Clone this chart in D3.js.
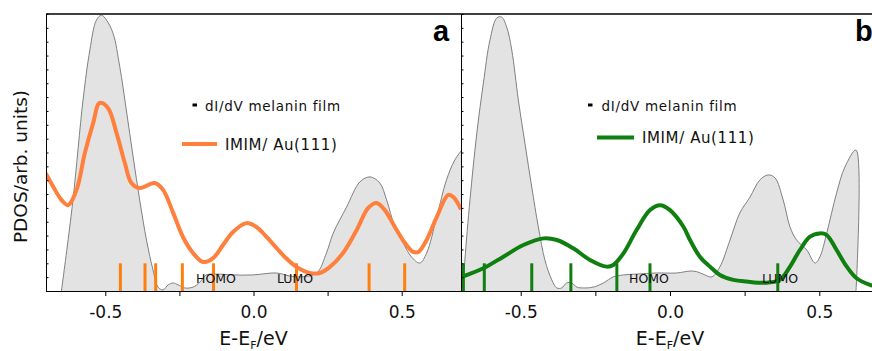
<!DOCTYPE html>
<html>
<head>
<meta charset="utf-8">
<script src="https://cdn.jsdelivr.net/npm/d3@7"></script>
<style>
  body { margin: 0; background: #fff; }
  svg { display: block; font-family: "DejaVu Sans", sans-serif; }
</style>
</head>
<body>
<svg id="chart" width="872" height="351"></svg>
<script>
// dI/dV of melanin film (grey filled), panel a  [E-Ef (eV), arb]
const dIdVA = [[-0.648,0],[-0.643,4.0],[-0.609,32.9],[-0.575,69.0],[-0.552,87.0],[-0.530,97.8],[-0.513,99.6],
  [-0.496,97.8],[-0.474,93.1],[-0.451,80.9],[-0.429,65.3],[-0.406,48.4],[-0.384,32.9],[-0.361,18.4],
  [-0.339,7.6],[-0.322,1.4],[-0.305,0.4],[-0.288,2.2],[-0.271,2.9],[-0.254,2.2],[-0.232,1.1],[-0.204,1.4],
  [-0.181,3.2],[-0.159,5.8],[-0.125,6.1],[-0.070,5.8],[-0.002,5.8],[0.078,6.5],[0.123,5.4],[0.156,5.1],
  [0.213,6.5],[0.246,13.7],[0.269,20.9],[0.314,30.3],[0.359,39.4],[0.393,41.2],[0.426,39.0],[0.449,32.9],
  [0.477,23.1],[0.505,17.3],[0.533,12.3],[0.561,10.1],[0.584,13.7],[0.618,26.7],[0.651,40.1],[0.679,47.3],
  [0.703,50.9]];

// IMIM/Au(111) PDOS, panel a
const imimA = [[-0.701,42.5],[-0.676,37.7],[-0.648,32.9],[-0.626,31.0],[-0.597,36.5],[-0.569,49.8],
  [-0.541,60.6],[-0.519,67.9],[-0.491,66.1],[-0.462,57.0],[-0.434,46.2],[-0.412,39.0],[-0.384,37.2],
  [-0.333,39.0],[-0.305,36.5],[-0.271,28.2],[-0.238,19.5],[-0.204,13.7],[-0.170,10.5],[-0.136,11.9],
  [-0.103,16.6],[-0.069,21.3],[-0.024,24.5],[0.010,23.1],[0.044,19.5],[0.078,15.5],[0.110,11.8],
  [0.145,8.7],[0.190,6.5],[0.224,6.5],[0.258,8.7],[0.302,13.7],[0.348,22.0],[0.387,30.0],[0.415,31.8],
  [0.443,29.2],[0.477,23.1],[0.511,17.3],[0.539,14.1],[0.556,14.1],[0.584,18.4],[0.618,26.7],
  [0.657,34.7],[0.674,33.9],[0.700,29.5]];

// molecular levels, panel a
const levelsA = [-0.705, -0.449, -0.366, -0.330, -0.240, -0.135, 0.145, 0.390, 0.510];

// dI/dV of melanin film, panel b
const dIdVB = [[-0.694,0],[-0.687,11.2],[-0.670,32.9],[-0.647,57.0],[-0.625,75.1],[-0.603,90.6],
  [-0.580,98.6],[-0.564,98.9],[-0.547,95.3],[-0.530,87.0],[-0.508,69.0],[-0.486,53.4],[-0.463,37.5],
  [-0.441,23.1],[-0.419,11.2],[-0.396,4.0],[-0.379,1.1],[-0.363,1.1],[-0.346,2.9],[-0.329,2.9],
  [-0.312,1.4],[-0.290,1.1],[-0.257,1.4],[-0.223,2.9],[-0.190,5.1],[-0.156,5.8],[-0.112,6.1],
  [-0.045,6.5],[0.022,6.5],[0.067,7.2],[0.089,7.0],[0.117,5.8],[0.140,5.1],[0.167,8.7],[0.201,18.4],
  [0.234,28.2],[0.268,33.9],[0.301,40.1],[0.329,41.9],[0.352,40.8],[0.379,32.9],[0.402,23.1],
  [0.424,18.4],[0.458,14.8],[0.486,10.1],[0.502,12.3],[0.525,20.9],[0.558,35.4],[0.586,44.8],
  [0.623,50.9],[0.623,0]];

// IMIM/Au(111) PDOS, panel b
const imimB = [[-0.700,4.7],[-0.692,5.2],[-0.625,8.2],[-0.558,12.4],[-0.491,16.6],[-0.424,19.0],
  [-0.379,18.4],[-0.324,15.4],[-0.268,11.2],[-0.212,8.8],[-0.190,9.4],[-0.156,13.6],[-0.112,22.0],
  [-0.067,29.2],[-0.033,31.0],[0.000,29.2],[0.045,23.2],[0.067,18.4],[0.100,12.4],[0.134,8.8],
  [0.167,5.8],[0.212,4.0],[0.257,3.4],[0.324,3.0],[0.368,4.0],[0.402,8.8],[0.435,14.8],[0.469,19.6],
  [0.502,20.8],[0.525,20.2],[0.558,14.8],[0.592,8.8],[0.625,4.6],[0.670,2.2],[0.700,1.5]];

// molecular levels, panel b
const levelsB = [-0.692, -0.622, -0.463, -0.332, -0.178, -0.067, 0.361];

const xTicks = [-0.5, -0.25, 0, 0.25, 0.5];
const xTickLabels = {"-0.5": "-0.5", "0": "0.0", "0.5": "0.5"};
const levelHeight = 10;

const svg = d3.select('#chart');
const yTop = 14, yBottom = 291;

const y = d3.scaleLinear().domain([0, 100]).range([yBottom, yTop]);

const panels = [
  { id: 'a', x0: 46, x1: 461, dIdV: dIdVA, imim: imimA, levels: levelsA,
    curveColor: '#ff7f3c', barColor: '#ff7f0e', label: 'a', labelX: 433,
    legend: { dashX: 192.5, textX: 205, lineX0: 182, lineX1: 217, lineY: 144, imimX: 225 },
    homoX: 196, lumoX: 277 },
  { id: 'b', x0: 461, x1: 879, dIdV: dIdVB, imim: imimB, levels: levelsB,
    curveColor: '#0f7f0f', barColor: '#0f7f0f', label: 'b', labelX: 855,
    legend: { dashX: 588, textX: 601.5, lineX0: 597, lineX1: 634, lineY: 137.5, imimX: 642 },
    homoX: 629, lumoX: 762 }
];

panels.forEach(p => {
  const x = d3.scaleLinear().domain([-0.7, 0.7]).range([p.x0, p.x1]);
  const g = svg.append('g');

  g.append('clipPath').attr('id', 'clip-' + p.id)
    .append('rect').attr('x', p.x0).attr('y', yTop).attr('width', p.x1 - p.x0).attr('height', yBottom - yTop);
  const plot = g.append('g').attr('clip-path', `url(#clip-${p.id})`);

  // grey dI/dV area
  const area = d3.area().x(d => x(d[0])).y0(y(0)).y1(d => y(d[1])).curve(d3.curveCatmullRom.alpha(0.5));
  const line = d3.line().x(d => x(d[0])).y(d => y(d[1])).curve(d3.curveCatmullRom.alpha(0.5));
  plot.append('path').datum(p.dIdV).attr('d', area).attr('fill', '#e3e3e3');
  plot.append('path').datum(p.dIdV).attr('d', line)
    .attr('fill', 'none').attr('stroke', '#808080').attr('stroke-width', 1);

  // HOMO / LUMO labels
  g.append('text').attr('x', p.homoX).attr('y', 282.5).attr('font-size', 12.5).attr('fill', '#111').text('HOMO');
  g.append('text').attr('x', p.lumoX).attr('y', 282.5).attr('font-size', 12.5).attr('fill', '#111').text('LUMO');

  // level bars
  plot.selectAll('.lvl').data(p.levels).enter().append('line')
    .attr('x1', d => x(d)).attr('x2', d => x(d))
    .attr('y1', y(0)).attr('y2', y(levelHeight))
    .attr('stroke', p.barColor).attr('stroke-width', 3);

  // PDOS curve
  plot.append('path').datum(p.imim).attr('d', line)
    .attr('fill', 'none').attr('stroke', p.curveColor).attr('stroke-width', 4)
    .attr('stroke-linejoin', 'round');

  // axes
  const xAxis = d3.axisBottom(x).tickValues(xTicks).tickSize(5).tickSizeOuter(0).tickPadding(10)
    .tickFormat(d => xTickLabels[String(d)] || '');
  const ax = g.append('g').attr('transform', `translate(0,${yBottom})`).call(xAxis);
  ax.selectAll('text').attr('font-size', 17).attr('font-family', '"DejaVu Sans", sans-serif').attr('fill', '#111');

  const yAxis = d3.axisRight(y).tickValues(d3.range(0, 101, 5)).tickSize(2.5).tickSizeOuter(0).tickFormat('');
  g.append('g').attr('transform', `translate(${p.x0},0)`).call(yAxis);

  // x title
  const cx = x(0);
  const t = g.append('text').attr('x', cx).attr('y', 345).attr('text-anchor', 'middle')
    .attr('font-size', 19).attr('fill', '#111');
  t.append('tspan').text('E-E');
  t.append('tspan').attr('font-size', 11).attr('dy', 3.5).text('F');
  t.append('tspan').attr('dy', -3.5).text('/eV');

  // legend
  const L = p.legend;
  g.append('rect').attr('x', L.dashX).attr('y', 103.5).attr('width', 4.5).attr('height', 3).attr('fill', '#000');
  g.append('text').attr('x', L.textX).attr('y', 111).attr('font-size', 13.5).attr('fill', '#111')
    .attr('letter-spacing', 0.7).text('dI/dV melanin film');
  g.append('line').attr('x1', L.lineX0).attr('x2', L.lineX1).attr('y1', L.lineY).attr('y2', L.lineY)
    .attr('stroke', p.curveColor).attr('stroke-width', 4);
  g.append('text').attr('x', L.imimX).attr('y', L.lineY + 5.5).attr('font-size', 15).attr('fill', '#111')
    .attr('letter-spacing', 0.6).text('IMIM/ Au(111)');

  // panel letter
  g.append('text').attr('x', p.labelX).attr('y', 40.5).attr('font-size', 29).attr('font-weight', 'bold')
    .attr('font-family', '"Liberation Sans", Arial, sans-serif').text(p.label);
});

// frame top line
svg.append('line').attr('x1', 46).attr('x2', 872).attr('y1', yTop).attr('y2', yTop)
  .attr('stroke', '#000').attr('stroke-width', 1.3);

// y title
svg.append('text').attr('transform', 'translate(27,166.5) rotate(-90)').attr('text-anchor', 'middle')
  .attr('font-size', 18.5).attr('fill', '#111').text('PDOS/arb. units)');
</script>
</body>
</html>
